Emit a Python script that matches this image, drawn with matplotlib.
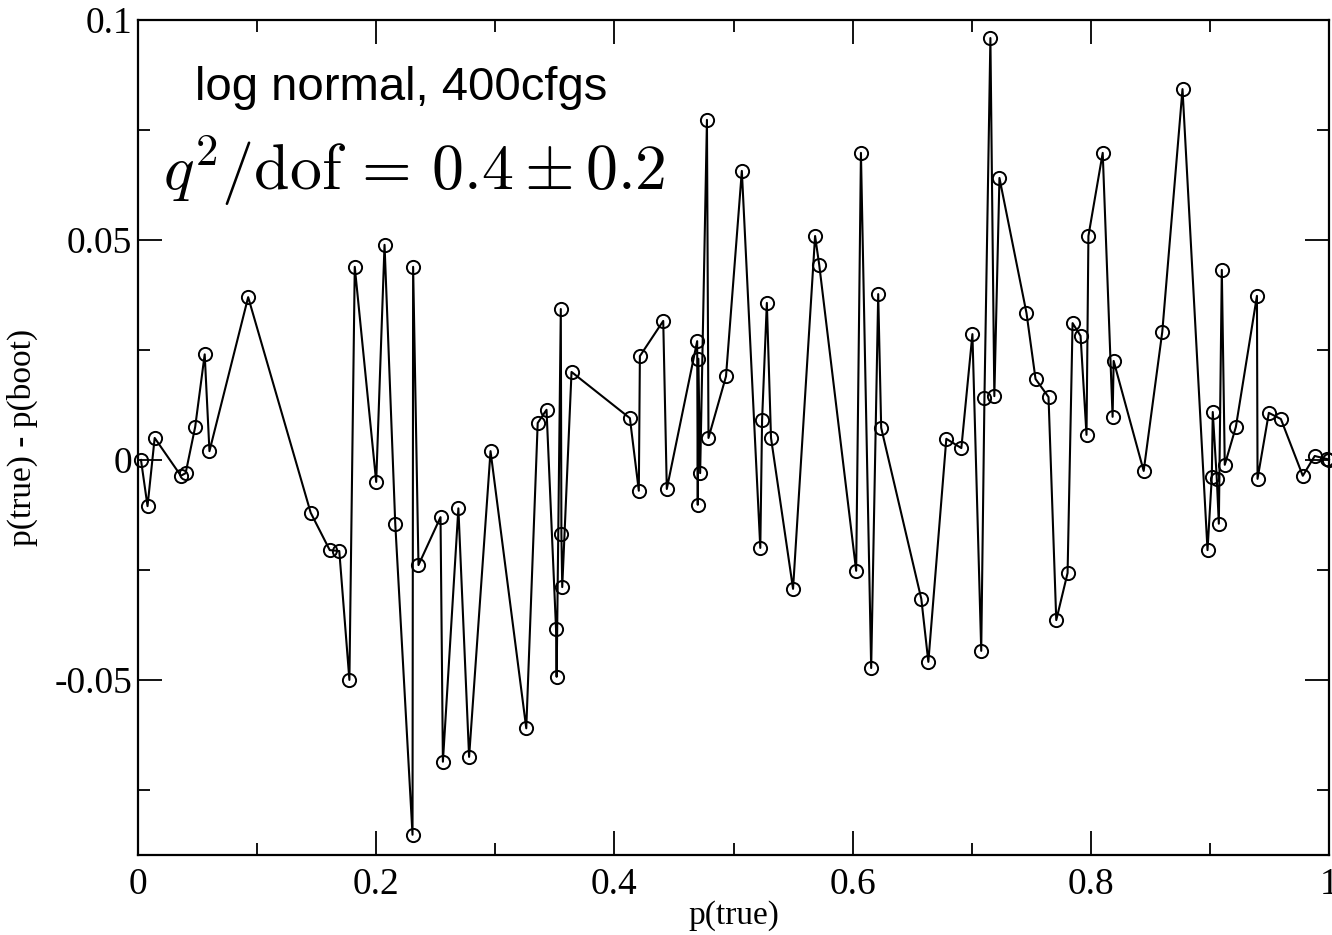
import matplotlib
matplotlib.use("Agg")
import matplotlib.pyplot as plt
from matplotlib.ticker import MultipleLocator

# data
p_true = [0.0025, 0.008, 0.014, 0.036, 0.040, 0.048, 0.056, 0.060, 0.0925, 0.145,
          0.161, 0.169, 0.1775, 0.182, 0.200, 0.207, 0.216, 0.2305, 0.2310, 0.2355,
          0.254, 0.256, 0.269, 0.278, 0.296, 0.326, 0.3356, 0.343, 0.3510, 0.3515,
          0.3550, 0.3555, 0.3562, 0.364, 0.413, 0.4205, 0.4214, 0.441, 0.444, 0.4695,
          0.4700, 0.4705, 0.4720, 0.4777, 0.479, 0.4937, 0.507, 0.5225, 0.524, 0.528,
          0.5315, 0.550, 0.5685, 0.572, 0.603, 0.607, 0.6156, 0.6215, 0.624, 0.6577,
          0.6636, 0.6787, 0.6913, 0.7006, 0.708, 0.7107, 0.7157, 0.719, 0.7233, 0.746,
          0.7536, 0.7645, 0.771, 0.7805, 0.7847, 0.7914, 0.7964, 0.798, 0.810, 0.8183,
          0.8192, 0.8444, 0.860, 0.877, 0.898, 0.9016, 0.9024, 0.9058, 0.9075, 0.910,
          0.9125, 0.9218, 0.9395, 0.9400, 0.9495, 0.9596, 0.978, 0.988, 0.9985, 1.0]
diff = [0.0, -0.0105, 0.005, -0.0036, -0.003, 0.0075, 0.024, 0.002, 0.037, -0.012,
        -0.0205, -0.0207, -0.050, 0.0439, -0.005, 0.0489, -0.0145, -0.0852, 0.0439, -0.0239,
        -0.013, -0.0686, -0.011, -0.0675, 0.002, -0.061, 0.0084, 0.0114, -0.0384, -0.0493,
        0.0343, -0.0168, -0.0289, 0.020, 0.0095, -0.007, 0.0236, 0.0316, -0.0066, 0.027,
        -0.0102, 0.023, -0.003, 0.0773, 0.005, 0.019, 0.0657, -0.020, 0.0091, 0.0357,
        0.005, -0.0293, 0.0509, 0.0443, -0.0252, 0.0698, -0.0473, 0.0377, 0.0073, -0.0316,
        -0.0459, 0.0048, 0.0027, 0.0286, -0.0434, 0.0141, 0.0959, 0.0145, 0.0641, 0.0334,
        0.0184, 0.0143, -0.0364, -0.0257, 0.0311, 0.0282, 0.0057, 0.0509, 0.0698, 0.0098,
        0.0225, -0.0025, 0.0291, 0.0843, -0.0205, -0.0039, 0.0109, -0.0043, -0.0145, 0.0432,
        -0.0011, 0.0075, 0.0373, -0.0043, 0.0107, 0.0093, -0.0036, 0.0009, 0.0002, 0.0]

x_ticks = [0, 0.2, 0.4, 0.6, 0.8, 1]
x_tick_labels = ["0", "0.2", "0.4", "0.6", "0.8", "1"]
y_ticks = [-0.05, 0, 0.05, 0.1]
y_tick_labels = ["-0.05", "0", "0.05", "0.1"]

plt.rcParams['mathtext.fontset'] = 'cm'
serif = ['Liberation Serif', 'DejaVu Serif']

fig = plt.figure(figsize=(13.32, 9.35), dpi=100)
ax = fig.add_axes([138/1332, 80/935, (1329-138)/1332, (855-20)/935])

ax.plot(p_true, diff, color='black', lw=1.5, marker='o', markersize=9.5,
        markerfacecolor='none', markeredgecolor='black', markeredgewidth=1.4,
        clip_on=False, zorder=3)

ax.set_xlim(0, 1)
ax.set_ylim(-0.0898, 0.1)
ax.set_xticks(x_ticks)
ax.set_xticklabels(x_tick_labels)
ax.set_yticks(y_ticks)
ax.set_yticklabels(y_tick_labels)
ax.xaxis.set_minor_locator(MultipleLocator(0.1))
ax.yaxis.set_minor_locator(MultipleLocator(0.025))
ax.tick_params(which='both', direction='in', top=True, right=True, width=1.3,
               labelsize=27)
ax.tick_params(axis='x', which='major', pad=9)
ax.tick_params(axis='y', which='major', pad=4)
ax.tick_params(which='major', length=17)
ax.tick_params(which='minor', length=8.5)
for lab in ax.get_xticklabels() + ax.get_yticklabels():
    lab.set_family(serif)
for s in ax.spines.values():
    s.set_linewidth(1.6)

ax.set_xlabel("p(true)", fontsize=24, family=serif, labelpad=-1)
ax.set_ylabel("p(true) - p(boot)", fontsize=24, family=serif, labelpad=12)

ax.text(0.048, 0.918, "log normal, 400cfgs", transform=ax.transAxes,
        fontsize=34, family=['Liberation Sans', 'DejaVu Sans'], va='center', ha='left')
ax.text(0.021, 0.82, r"$q^2/\mathrm{dof}\,=\,0.4\pm0.2$", transform=ax.transAxes,
        fontsize=46, va='center', ha='left')

fig.savefig("out.png", dpi=100)
